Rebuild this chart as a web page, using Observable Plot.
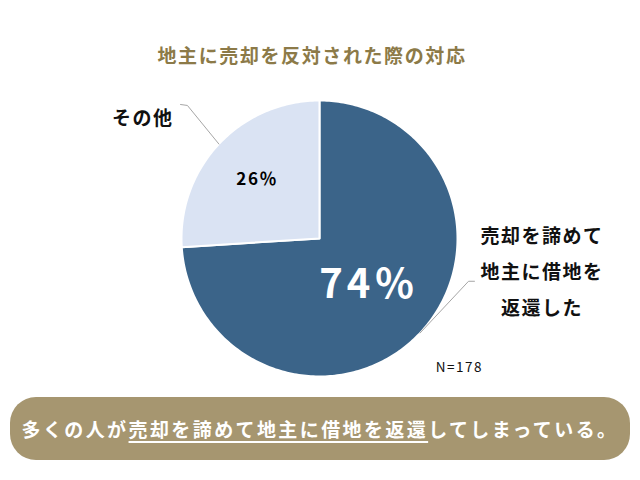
<!DOCTYPE html>
<html lang="ja">
<head>
<meta charset="utf-8">
<script src="https://cdn.jsdelivr.net/npm/d3@7"></script>
<script src="https://cdn.jsdelivr.net/npm/@observablehq/plot@0.6"></script>
<style>
  html, body { margin: 0; padding: 0; background: #fff; }
  body { width: 640px; height: 480px; position: relative; overflow: hidden;
         font-family: "Noto Sans CJK JP", "Noto Sans", sans-serif; }
  #title { position: absolute; top: 41px; left: 0; width: 624px; text-align: center;
           font-size: 19px; font-weight: bold; letter-spacing: 1.6px; color: #8C7A48; }
  #chart { position: absolute; top: 88px; left: 0; }
  #banner { position: absolute; left: 10px; top: 397px; width: 620px; height: 63px;
            border-radius: 26px; background: #A69670; color: #fff;
            display: flex; align-items: center; justify-content: center;
            font-size: 19px; font-weight: bold; letter-spacing: 2.4px; }
  #banner u { text-decoration-thickness: 1.5px; text-underline-offset: 4px; }
</style>
</head>
<body>
<div id="title"></div>
<div id="chart"></div>
<div id="banner"></div>
<script>
// ---- data ----
const titleText = "地主に売却を反対された際の対応";
const categories = ["売却を諦めて地主に借地を返還した", "その他"];
const categoryLabels = ["売却を諦めて\n地主に借地を\n返還した", "その他"];
const values = [74, 26];
const sampleSize = 178;
const summaryBefore = "多くの人が";
const summaryUnderlined = "売却を諦めて地主に借地を返還";
const summaryAfter = "してしまっている。";
const sliceColors = ["#3B6489", "#DAE3F3"];

// ---- layout ----
const W = 640, H = 300, R = 138, cx = 319, cy = 150;
const pie = d3.pie().sort(null)(values);
const mid = p => (p.startAngle + p.endAngle) / 2;
const polar = (a, r) => ({x: r * Math.sin(a), y: r * Math.cos(a)});

// slice polygons built from the pie angles
const slicePts = pie.flatMap((p, i) => {
  const pts = [{cat: categories[i], x: 0, y: 0}];
  const n = Math.ceil((p.endAngle - p.startAngle) / (Math.PI / 180));
  for (let k = 0; k <= n; k++) {
    const a = p.startAngle + (p.endAngle - p.startAngle) * k / n;
    pts.push({cat: categories[i], ...polar(a, 1)});
  }
  return pts;
});

// percent label positions (radius fraction per slice)
const pctRadius = [0.49, 0.62];
const pctData = pie.map((p, i) => ({
  label: `${Math.round(p.data / d3.sum(values) * 100)}％`,
  ...polar(mid(p), pctRadius[i]), i
}));

// outer category labels and leader lines
const outerLayout = [
  {lx: 1.612, ly: -0.21, elbow: {x: 1.08, y: -0.31}, end: {x: 1.123, y: -0.31}},
  {lx: -1.28, ly: 0.906, elbow: {x: -0.957, y: 0.964}, end: {x: -1.007, y: 0.971}}
];
const leaderPts = pie.flatMap((p, i) => [
  {cat: categories[i], ...polar(mid(p), 1)},
  {cat: categories[i], ...outerLayout[i].elbow},
  {cat: categories[i], ...outerLayout[i].end}
]);
const outerData = categoryLabels.map((t, i) => ({t, x: outerLayout[i].lx, y: outerLayout[i].ly}));

const font = "Noto Sans CJK JP";
const chart = Plot.plot({
  width: W, height: H,
  margin: 0,
  x: {domain: [-cx / R, (W - cx) / R], axis: null},
  y: {domain: [-(H - cy) / R, cy / R], axis: null},
  color: {domain: categories, range: sliceColors},
  marks: [
    Plot.line(slicePts, {x: "x", y: "y", z: "cat", fill: "cat", stroke: "white",
      strokeWidth: 2, curve: "linear-closed", strokeLinejoin: "round"}),
    Plot.line(leaderPts, {x: "x", y: "y", z: "cat", stroke: "#A6A6A6", strokeWidth: 1}),
    Plot.text(pctData.filter(d => d.i === 0), {x: "x", y: "y", text: "label",
      fill: "#fff", fontSize: 40, fontWeight: "bold", fontFamily: font, className: "big"}),
    Plot.text(pctData.filter(d => d.i === 1), {x: "x", y: "y", text: "label",
      fill: "#000", fontSize: 17, fontWeight: "bold", fontFamily: font}),
    Plot.text(outerData, {x: "x", y: "y", text: "t", fill: "#111", fontSize: 19,
      fontWeight: "bold", fontFamily: font, lineHeight: 1.9}),
    Plot.text([`N=${sampleSize}`], {x: 1.014, y: -0.935, text: d => d,
      fill: "#111", fontSize: 13.5, fontFamily: font})
  ]
});
chart.querySelectorAll("text").forEach(t => t.style.letterSpacing = "1.5px");
chart.querySelectorAll(".big text").forEach(t => t.style.letterSpacing = "4px");
document.getElementById("chart").appendChild(chart);

document.getElementById("title").textContent = titleText;
const banner = document.getElementById("banner");
banner.append(summaryBefore);
const u = document.createElement("u");
u.textContent = summaryUnderlined;
banner.append(u, summaryAfter);
</script>
</body>
</html>
